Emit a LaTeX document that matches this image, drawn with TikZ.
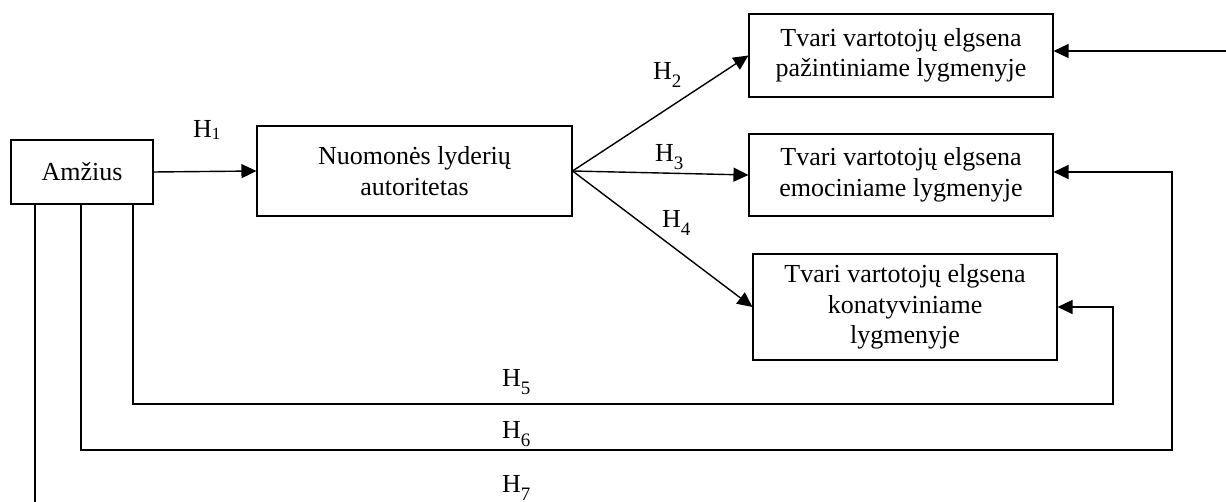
\documentclass[tikz,border=0pt]{standalone}
\usepackage{fontspec}
\setmainfont{Liberation Serif}
\usetikzlibrary{arrows.meta}
\tikzset{
  box/.style={draw, line width=1.1pt, align=center, inner sep=2pt, font=\fontsize{26}{30.5}\selectfont},
  conn/.style={line width=1.4pt, -{Triangle[length=15pt,width=14pt]}},
  plain/.style={line width=1.4pt},
  hlab/.style={font=\fontsize{26}{30}\selectfont, inner sep=0pt, anchor=base west}
}
\newcommand{\hsub}[1]{H\raisebox{-8pt}{\fontsize{19}{19}\selectfont #1}}
\begin{document}
\begin{tikzpicture}[x=1pt,y=-1pt]
\useasboundingbox (0,0) rectangle (1226,502);
\node[box, minimum width=142pt, minimum height=64pt] (amz) at (82,172) {Amžius};
\node[box, minimum width=315pt, minimum height=90pt] (nuo) at (414.5,171) {Nuomonės lyderių\\autoritetas};
\node[box, minimum width=304pt, minimum height=83pt] (b1) at (901,55.5) {Tvari vartotojų elgsena\\pažintiniame lygmenyje};
\node[box, minimum width=304pt, minimum height=82pt] (b2) at (901,175) {Tvari vartotojų elgsena\\emociniame lygmenyje};
\node[box, minimum width=304pt, minimum height=106pt] (b3) at (905,307) {Tvari vartotojų elgsena\\konatyviniame\\lygmenyje};

\coordinate (top) at (1226,51);
\coordinate (r6) at (1172,172);
\coordinate (r5) at (1113,307);
\coordinate (e7) at (35,502);

\draw[conn] (amz.east) -- (nuo.west);
\draw[conn] (nuo.east) -- (b1.west);
\draw[conn] (nuo.east) -- (b2.west);
\draw[conn] (nuo.east) -- (b3.west);
\draw[conn] (top) -- (top -| b1.east);
\draw[conn] ([xshift=51pt]amz.south) |- (1113,404) -- (r5) -- (r5 -| b3.east);
\draw[conn] ([xshift=-1pt]amz.south) |- (1172,450) -- (r6) -- (r6 -| b2.east);
\draw[plain] ([xshift=-47pt]amz.south) -- (e7);

\node[hlab] (h1) at (193,138) {H\raisebox{-2pt}{\fontsize{17}{17}\selectfont 1}};
\node[hlab] (h2) at (653,80) {\hsub{2}};
\node[hlab] (h3) at (655,162) {\hsub{3}};
\node[hlab] (h4) at (662,228) {\hsub{4}};
\node[hlab] (h5) at (502,387) {\hsub{5}};
\node[hlab] (h6) at (502,438) {\hsub{6}};
\node[hlab] (h7) at (502,492) {\hsub{7}};
\end{tikzpicture}
\end{document}
